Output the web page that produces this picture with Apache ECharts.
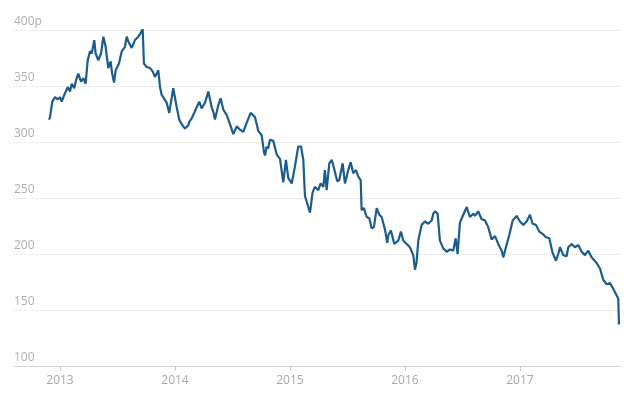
<!DOCTYPE html>
<html>
<head>
<meta charset="utf-8">
<script src="https://cdn.jsdelivr.net/npm/echarts@6/dist/echarts.min.js"></script>
<style>
html,body{margin:0;padding:0;background:#fff;}
#chart{width:640px;height:398px;}
</style>
</head>
<body>
<div id="chart"></div>
<script>
// Time in decimal years
var years = [
2012.904,2012.913,2012.933,2012.957,2012.980,2013.000,2013.015,2013.037,2013.067,2013.087,
2013.102,2013.124,2013.139,2013.159,2013.183,2013.203,2013.223,2013.241,2013.261,2013.276,
2013.298,2013.310,2013.333,2013.357,2013.377,2013.397,2013.420,2013.441,2013.452,2013.470,
2013.484,2013.513,2013.537,2013.565,2013.580,2013.594,2013.623,2013.652,2013.681,2013.700,
2013.719,2013.730,2013.754,2013.783,2013.806,2013.826,2013.855,2013.870,2013.884,2013.898,
2013.913,2013.928,2013.950,2013.985,2014.015,2014.037,2014.052,2014.072,2014.087,2014.096,
2014.116,2014.124,2014.145,2014.159,2014.189,2014.211,2014.232,2014.261,2014.290,2014.319,
2014.333,2014.348,2014.377,2014.397,2014.420,2014.450,2014.478,2014.507,2014.537,2014.565,
2014.594,2014.623,2014.658,2014.678,2014.696,2014.724,2014.754,2014.774,2014.783,2014.797,
2014.809,2014.826,2014.855,2014.884,2014.913,2014.942,2014.965,2014.985,2015.015,2015.043,
2015.072,2015.096,2015.116,2015.130,2015.159,2015.174,2015.197,2015.217,2015.246,2015.267,
2015.290,2015.304,2015.319,2015.342,2015.363,2015.377,2015.391,2015.411,2015.429,2015.458,
2015.478,2015.507,2015.528,2015.550,2015.574,2015.594,2015.615,2015.623,2015.643,2015.667,
2015.690,2015.710,2015.730,2015.754,2015.777,2015.797,2015.826,2015.846,2015.855,2015.878,
2015.907,2015.942,2015.965,2015.985,2016.015,2016.043,2016.072,2016.087,2016.100,2016.116,
2016.145,2016.174,2016.203,2016.232,2016.246,2016.261,2016.284,2016.304,2016.319,2016.333,
2016.363,2016.391,2016.420,2016.441,2016.458,2016.478,2016.507,2016.537,2016.565,2016.594,
2016.609,2016.637,2016.667,2016.696,2016.724,2016.754,2016.783,2016.811,2016.841,2016.855,
2016.878,2016.907,2016.937,2016.971,2017.000,2017.029,2017.058,2017.087,2017.110,2017.139,
2017.168,2017.197,2017.226,2017.255,2017.284,2017.313,2017.333,2017.348,2017.377,2017.406,
2017.420,2017.450,2017.478,2017.507,2017.537,2017.565,2017.594,2017.623,2017.667,2017.696,
2017.724,2017.754,2017.783,2017.811,2017.841,2017.855,2017.858,2017.861
];
// Share price in pence
var prices = [
320,322,336,340,338,340,336,342,349,345,
352,348,355,361,354,357,352,373,381,379,
391,379,373,379,394,385,366,372,362,353,
364,370,381,385,394,390,384,391,394,397,
401,370,367,366,363,358,364,349,342,340,
339,335,326,348,331,320,317,314,312,311,
315,318,321,320,331,336,330,335,345,331,
327,320,333,339,329,324,316,307,314,311,
309,317,326,324,322,310,306,291,288,296,
294,302,301,289,285,264,284,268,263,278,
296,296,284,252,242,237,255,260,257,263,
260,275,257,281,284,279,278,265,266,281,
263,275,282,272,275,269,266,239,241,233,
232,223,224,241,235,233,222,210,217,221,
209,212,220,212,209,206,199,186,192,212,
226,229,227,230,236,238,236,212,212,205,
202,204,203,214,200,228,235,242,233,236,
234,238,231,230,224,213,216,209,203,197,
206,217,230,234,229,226,229,235,227,226,
220,218,215,214,201,194,200,206,199,198,
206,209,206,208,202,199,203,197,192,187,
177,173,174,169,163,160,160,137
];
var yearTicks = [2013, 2014, 2015, 2016, 2017];
var priceTicks = [100, 150, 200, 250, 300, 350, 400];

var seriesData = years.map(function (t, i) { return [t, prices[i]]; });

var chart = echarts.init(document.getElementById('chart'), null, {renderer: 'canvas'});
chart.setOption({
  animation: false,
  backgroundColor: '#ffffff',
  grid: {left: 14, right: 20, top: 30, bottom: 32, containLabel: false},
  xAxis: {
    type: 'value',
    min: 2012.6,
    max: 2017.87,
    axisLine: {show: true, lineStyle: {color: '#d6d6d6', width: 1}},
    axisTick: {show: true, customValues: yearTicks, length: 5, lineStyle: {color: '#c8c8c8'}},
    axisLabel: {
      customValues: yearTicks,
      color: '#a8a8a8',
      fontFamily: 'Open Sans',
      fontSize: 12,
      margin: 9,
      formatter: function (v) { return String(Math.round(v)); }
    },
    splitLine: {show: false}
  },
  yAxis: {
    type: 'value',
    min: 100,
    max: 400,
    interval: 50,
    axisLine: {show: false},
    axisTick: {show: false},
    axisLabel: {
      inside: true,
      margin: 0,
      verticalAlign: 'bottom',
      padding: [0, 0, 2, 0],
      color: '#b0b0b0',
      fontFamily: 'Open Sans',
      fontSize: 12,
      formatter: function (v) { return v === priceTicks[priceTicks.length - 1] ? v + 'p' : String(v); }
    },
    splitLine: {show: true, lineStyle: {color: '#dcdcdc', type: 'dotted', width: 1}}
  },
  series: [{
    type: 'line',
    data: seriesData,
    showSymbol: false,
    symbol: 'none',
    lineStyle: {color: '#1b5c8d', width: 2.2},
    z: 3
  }]
});
</script>
</body>
</html>
